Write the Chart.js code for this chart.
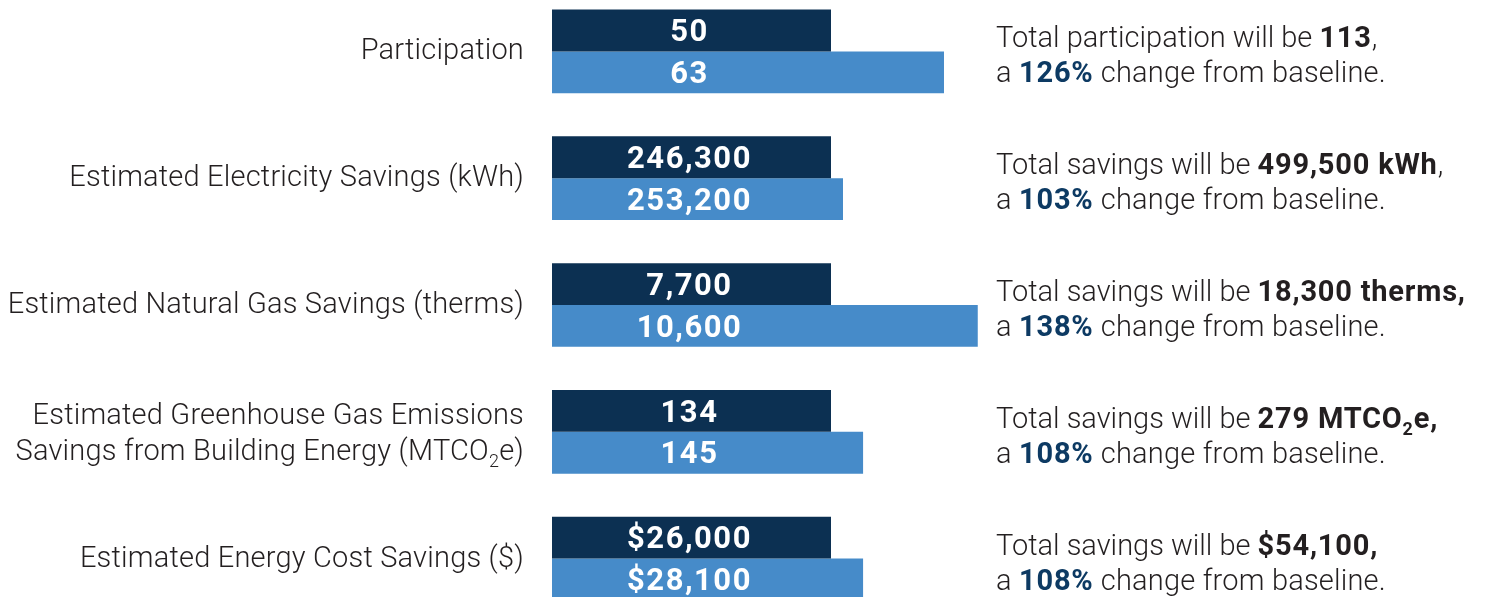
<!DOCTYPE html>
<html>
<head>
<meta charset="utf-8">
<script src="https://cdn.jsdelivr.net/npm/chart.js@4"></script>
<style>
  html, body { margin: 0; padding: 0; background: #fff; overflow: hidden; }
  #wrap { position: absolute; left: 0; top: -12px; width: 1486px; height: 634px; }
</style>
</head>
<body>
<div id="wrap"><canvas id="out"></canvas></div>
<script>
// left labels ("_2" = subscript)
const categoryLines = [
  ["Participation"],
  ["Estimated Electricity Savings (kWh)"],
  ["Estimated Natural Gas Savings (therms)"],
  ["Estimated Greenhouse Gas Emissions", "Savings from Building Energy (MTCO_2e)"],
  ["Estimated Energy Cost Savings ($)"]
];
const baselineLabels = ["50", "246,300", "7,700", "134", "$26,000"];
const addedLabels = ["63", "253,200", "10,600", "145", "$28,100"];
// bar lengths as drawn, baseline = 100
const baselineLength = [100, 100, 100, 100, 100];
const addedLength = [140.5, 104.3, 152.6, 111.5, 111.5];
// right-hand notes ("**" = bold)
const totalLines = [
  "Total participation will be **113**,",
  "Total savings will be **499,500 kWh**,",
  "Total savings will be **18,300 therms,**",
  "Total savings will be **279 MTCO_2e,**",
  "Total savings will be **$54,100,**"
];
const changeLabels = ["126%", "103%", "138%", "108%", "108%"];

const darkBlue = "#0c3052";
const lightBlue = "#468bc9";
const textColor = "#231f20";
const FONT = "Roboto, 'Liberation Sans', sans-serif";

function tokens(text, bold, color) {
  const out = [];
  let isBold = bold;
  let buf = "";
  const push = (sub) => { if (buf) out.push({ t: buf, bold: isBold, color: color, sub: sub }); buf = ""; };
  for (let i = 0; i < text.length; i++) {
    if (text[i] === "*" && text[i + 1] === "*") { push(false); isBold = !isBold; i++; }
    else if (text[i] === "_") { push(false); buf = text[i + 1]; push(true); i++; }
    else buf += text[i];
  }
  push(false);
  return out;
}

function setSeg(ctx, s, size, spacing) {
  const sz = s.sub ? Math.round(size * 0.62) : size;
  ctx.font = (s.bold ? "700 " : "300 ") + sz + "px " + FONT;
  ctx.letterSpacing = s.bold ? "0.8px" : spacing;
}

function drawRich(ctx, segs, x, y, align, size, spacing) {
  let total = 0;
  segs.forEach(s => { setSeg(ctx, s, size, spacing); total += ctx.measureText(s.t).width; });
  let cx = align === "right" ? x - total : x;
  ctx.textAlign = "left";
  ctx.textBaseline = "alphabetic";
  segs.forEach(s => {
    setSeg(ctx, s, size, spacing);
    ctx.fillStyle = s.color;
    ctx.fillText(s.t, cx, s.sub ? y + 7 : y);
    cx += ctx.measureText(s.t).width;
  });
}

const textPlugin = {
  id: "texts",
  afterDatasetsDraw(chart) {
    const ctx = chart.ctx;
    const xs = chart.scales.x;
    const ys = chart.scales.y;
    ctx.save();
    for (let i = 0; i < categoryLines.length; i++) {
      const cy = ys.getPixelForValue(i);
      // values inside bars
      const mid = xs.getPixelForValue(baselineLength[i] / 2) - 2;
      ctx.font = "700 31px " + FONT;
      ctx.letterSpacing = "1.5px";
      ctx.fillStyle = "#fff";
      ctx.textAlign = "center";
      ctx.textBaseline = "middle";
      const b0 = chart.getDatasetMeta(0).data[i];
      const b1 = chart.getDatasetMeta(1).data[i];
      ctx.fillText(baselineLabels[i], mid, b0.y + 3);
      ctx.fillText(addedLabels[i], mid, b1.y + 3);
      // left labels
      const lines = categoryLines[i];
      const base = lines.length === 1 ? [cy + 8] : [cy - 8, cy + 28];
      lines.forEach((ln, k) => drawRich(ctx, tokens(ln, false, textColor), 524, base[k], "right", 29, "0.2px"));
      // right notes
      drawRich(ctx, tokens(totalLines[i], false, textColor), 996, cy - 4, "left", 29, "0px");
      drawRich(ctx, [
        { t: "a ", bold: false, color: textColor },
        { t: changeLabels[i], bold: true, color: "#0d3a63" },
        { t: " change from baseline.", bold: false, color: textColor }
      ], 996, cy + 31, "left", 29, "0.2px");
    }
    ctx.restore();
  }
};

const ctx = document.getElementById("out").getContext("2d");
new Chart(ctx, {
  type: "bar",
  data: {
    labels: categoryLines.map(l => l.join(" ")),
    datasets: [
      { label: "Baseline", data: baselineLength, backgroundColor: darkBlue },
      { label: "Added", data: addedLength, backgroundColor: lightBlue }
    ]
  },
  options: {
    indexAxis: "y",
    responsive: true,
    maintainAspectRatio: false,
    animation: false,
    datasets: { bar: { categoryPercentage: 0.66, barPercentage: 1, borderWidth: 0 } },
    layout: { padding: { left: 552, right: 487.6, top: 0, bottom: 0 } },
    scales: {
      x: { min: 0, max: 160, display: false },
      y: { display: false }
    },
    plugins: { legend: { display: false }, tooltip: { enabled: false } }
  },
  plugins: [textPlugin]
});
</script>
</body>
</html>
